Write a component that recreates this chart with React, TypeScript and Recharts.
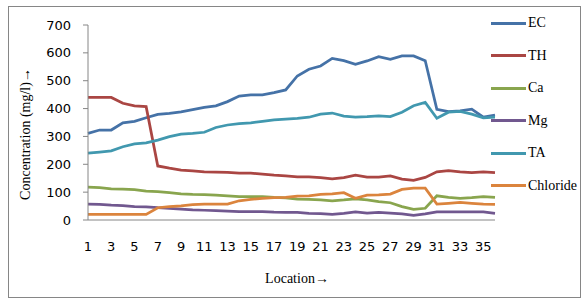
import React from "react";
import { LineChart, Line, XAxis, YAxis } from "recharts";

const locations = Array.from({ length: 36 }, (_, i) => String(i + 1));

const ec = [311, 323, 323, 349, 354, 367, 379, 383, 388, 396, 404, 410, 425, 445, 449, 449, 457, 467, 517, 541, 553, 580, 572, 559, 571, 586, 577, 589, 589, 572, 397, 389, 392, 398, 369, 377];
const th = [440, 440, 440, 419, 410, 407, 194, 186, 179, 176, 173, 172, 171, 168, 168, 165, 161, 158, 155, 155, 152, 148, 152, 161, 154, 154, 158, 147, 142, 153, 173, 177, 173, 170, 173, 170];
const ca = [118, 116, 112, 111, 109, 104, 102, 98, 94, 92, 91, 89, 87, 84, 84, 84, 81, 79, 75, 74, 72, 69, 72, 76, 72, 66, 62, 48, 38, 42, 87, 81, 78, 80, 84, 81];
const mg = [57, 56, 53, 52, 48, 47, 44, 42, 39, 36, 35, 34, 32, 30, 30, 30, 28, 27, 27, 24, 23, 20, 24, 29, 25, 27, 25, 22, 17, 22, 29, 29, 29, 29, 29, 24];
const ta = [240, 244, 248, 263, 273, 277, 287, 299, 308, 311, 315, 332, 341, 346, 349, 354, 359, 362, 365, 369, 380, 384, 373, 369, 371, 374, 371, 387, 410, 422, 365, 387, 390, 380, 367, 369];
const chloride = [20, 20, 20, 20, 20, 20, 44, 48, 51, 55, 57, 57, 57, 69, 74, 78, 80, 81, 86, 87, 92, 94, 98, 78, 89, 90, 93, 110, 114, 114, 57, 60, 63, 60, 57, 56];

const yTicks = [0, 100, 200, 300, 400, 500, 600, 700];

const seriesDefs = [
  { key: "EC", values: ec, color: "#4572A7" },
  { key: "TH", values: th, color: "#AA4643" },
  { key: "Ca", values: ca, color: "#89A54E" },
  { key: "Mg", values: mg, color: "#71588F" },
  { key: "TA", values: ta, color: "#4198AF" },
  { key: "Chloride", values: chloride, color: "#DB843D" },
];

const data = locations.map((loc, i) => {
  const row: Record<string, string | number> = { location: loc };
  seriesDefs.forEach((s) => {
    row[s.key] = s.values[i];
  });
  return row;
});

export default function App() {
  return (
    <div style={{ position: "absolute", left: 8, top: 6, width: 571, height: 290, border: "1px solid #868686", background: "#fff" }}>
      <LineChart width={571} height={290} data={data} margin={{ top: 18, right: 85, bottom: 47, left: 0 }}>
        <XAxis
          dataKey="location"
          interval={1}
          tickLine={false}
          tickSize={6}
          tickMargin={16}
          axisLine={{ stroke: "#868686" }}
          tick={{ fill: "#000", fontSize: 13, fontFamily: "'DejaVu Sans', sans-serif" }}
          height={30}
        />
        <YAxis
          domain={[0, 700]}
          ticks={yTicks}
          width={79}
          tickSize={5}
          tickMargin={12}
          axisLine={{ stroke: "#868686" }}
          tickLine={{ stroke: "#868686" }}
          tick={{ fill: "#000", fontSize: 13, fontFamily: "'DejaVu Sans', sans-serif" }}
        />
        {seriesDefs.map((s) => (
          <Line
            key={s.key}
            type="linear"
            dataKey={s.key}
            stroke={s.color}
            strokeWidth={2.75}
            dot={false}
            activeDot={false}
            isAnimationActive={false}
          />
        ))}
      </LineChart>
      <div style={{ position: "absolute", left: 482, top: 0 }}>
        {seriesDefs.map((s) => (
          <div
            key={s.key}
            style={{ display: "flex", alignItems: "center", height: 32.5, fontFamily: "'Liberation Serif', serif", fontSize: 14, color: "#000" }}
          >
            <div style={{ width: 35, height: 3, background: s.color, marginRight: 2 }} />
            <span>{s.key}</span>
          </div>
        ))}
      </div>
      <div
        style={{
          position: "absolute",
          left: 17,
          top: 127,
          transform: "translate(-50%, -50%) rotate(-90deg)",
          whiteSpace: "nowrap",
          fontFamily: "'Liberation Serif', serif",
          fontSize: 14,
          color: "#000",
        }}
      >
        Concentration (mg/l)→
      </div>
      <div
        style={{
          position: "absolute",
          left: 288,
          top: 272,
          transform: "translate(-50%, -50%)",
          whiteSpace: "nowrap",
          fontFamily: "'Liberation Serif', serif",
          fontSize: 14,
          color: "#000",
        }}
      >
        Location→
      </div>
    </div>
  );
}
